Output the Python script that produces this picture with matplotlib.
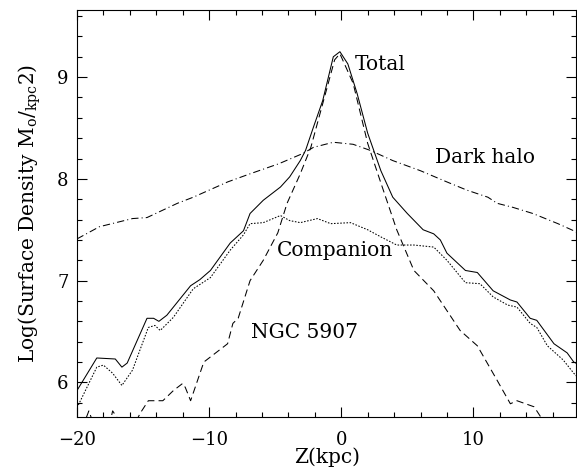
import matplotlib
matplotlib.use("Agg")
import matplotlib.pyplot as plt
import numpy as np

# surface density profiles
total_z = [-20.0, -18.5, -17.1, -16.6, -16.2, -14.7, -14.2, -13.8, -13.2, -11.4, -10.7, -9.9,
           -8.4, -7.4, -6.9, -5.9, -4.6, -3.9, -3.1, -2.7, -2.1, -1.4, -0.6, -0.1, 0.5, 1.2,
           2.0, 3.0, 3.9, 5.0, 6.2, 7.0, 7.5, 8.0, 9.4, 10.3, 11.5, 12.8, 13.3, 14.3, 14.8,
           16.1, 17.1, 17.6, 17.9]
total_y = [5.92, 6.24, 6.23, 6.15, 6.19, 6.63, 6.63, 6.60, 6.66, 6.95, 7.01, 7.10,
           7.37, 7.49, 7.66, 7.79, 7.92, 8.02, 8.18, 8.28, 8.51, 8.77, 9.20, 9.25, 9.13, 8.84,
           8.45, 8.08, 7.82, 7.66, 7.50, 7.46, 7.40, 7.27, 7.10, 7.08, 6.90, 6.81, 6.79, 6.63, 6.61,
           6.38, 6.29, 6.20, 6.18]

comp_z = [-20.0, -18.5, -18.0, -17.3, -16.6, -15.8, -14.6, -14.1, -13.7, -12.7, -11.2, -9.9,
          -8.4, -7.4, -6.9, -5.9, -4.6, -3.9, -3.1, -1.8, -0.8, 0.7, 2.0, 3.0, 4.2, 5.5, 7.0,
          8.0, 9.4, 10.5, 11.5, 12.6, 13.3, 14.3, 14.8, 15.6, 16.8, 17.6, 17.9]
comp_y = [5.75, 6.15, 6.17, 6.09, 5.97, 6.12, 6.54, 6.56, 6.51, 6.64, 6.92, 7.03,
          7.30, 7.45, 7.56, 7.57, 7.64, 7.59, 7.57, 7.61, 7.56, 7.57, 7.50, 7.43, 7.35, 7.35, 7.33,
          7.20, 6.98, 6.97, 6.84, 6.76, 6.74, 6.58, 6.54, 6.36, 6.22, 6.09, 6.05]

halo_z = [-20.0, -18.3, -15.8, -14.7, -12.4, -11.2, -8.6, -6.9, -4.7, -2.9, -2.1, -0.6, 0.9,
          2.2, 3.9, 6.0, 8.0, 9.5, 11.1, 11.8, 13.0, 14.5, 16.4, 17.6, 17.9]
halo_y = [7.41, 7.53, 7.61, 7.62, 7.76, 7.82, 7.97, 8.05, 8.15, 8.25, 8.31, 8.36, 8.34,
          8.28, 8.18, 8.08, 7.97, 7.89, 7.82, 7.76, 7.72, 7.66, 7.56, 7.49, 7.47]

ngc_z = [-19.6, -19.1, -18.5, -17.6, -17.3, -16.8, -16.0, -15.2, -14.6, -13.5, -12.7, -12.0,
         -11.8, -11.4, -10.4, -9.9, -8.6, -8.2, -7.8, -6.9, -5.9, -4.8, -4.1, -3.1, -2.3, -1.4,
         -0.5, -0.1, 0.9, 2.0, 3.0, 4.2, 5.5, 7.0, 9.0, 10.3, 11.8, 12.8, 13.3, 14.6, 15.1, 16.0]
ngc_y = [5.55, 5.72, 5.50, 5.55, 5.72, 5.62, 5.50, 5.70, 5.82, 5.82, 5.92, 5.99,
         5.95, 5.82, 6.20, 6.25, 6.38, 6.58, 6.63, 7.00, 7.20, 7.47, 7.76, 8.05, 8.31, 8.74,
         9.17, 9.23, 8.94, 8.35, 7.96, 7.50, 7.10, 6.90, 6.51, 6.36, 6.02, 5.79, 5.82, 5.76, 5.66, 5.50]

plt.rcParams['font.family'] = ['DejaVu Serif']
plt.rcParams['mathtext.fontset'] = 'dejavuserif'

fig = plt.figure(figsize=(5.77, 4.73), dpi=100)
ax = fig.add_axes([0.1334, 0.1184, 0.8656, 0.8605])

ax.plot(total_z, total_y, color='black', lw=0.75, ls='-')
ax.plot(comp_z, comp_y, color='black', lw=0.75, ls=(0, (1.5, 1.5)))
ax.plot(halo_z, halo_y, color='black', lw=0.75, ls=(0, (7, 3, 1, 3)))
ax.plot(ngc_z, ngc_y, color='black', lw=0.75, ls=(0, (7, 4)))

ax.text(1.0, 9.12, 'Total', fontsize=14.5, va='center', ha='left')
ax.text(7.1, 8.21, 'Dark halo', fontsize=14.5, va='center', ha='left')
ax.text(-4.85, 7.3, 'Companion', fontsize=14.5, va='center', ha='left')
ax.text(-6.8, 6.49, 'NGC 5907', fontsize=14.5, va='center', ha='left')

ax.set_xlim(-20, 17.8)
ax.set_ylim(5.66, 9.66)
ax.set_xticks([-20, -10, 0, 10])
ax.set_xticks(np.arange(-20, 18, 2), minor=True)
ax.set_yticks([6, 7, 8, 9])
ax.set_yticks(np.arange(5.8, 9.7, 0.2), minor=True)
ax.tick_params(which='both', direction='in', top=True, right=True, labelsize=13)
ax.tick_params(which='major', length=7, width=0.8)
ax.tick_params(axis='x', which='major', pad=10)
ax.tick_params(axis='y', which='major', pad=6)
ax.tick_params(which='minor', length=3.5, width=0.8)
for s in ax.spines.values():
    s.set_linewidth(0.8)

ax.set_xlabel('Z(kpc)', fontsize=14.5, labelpad=-1)
ax.set_ylabel(r'Log(Surface Density M$_{\rm o}$/$_{\rm kpc}$2)', fontsize=14.5, labelpad=10)

fig.savefig('out.png', dpi=100)
